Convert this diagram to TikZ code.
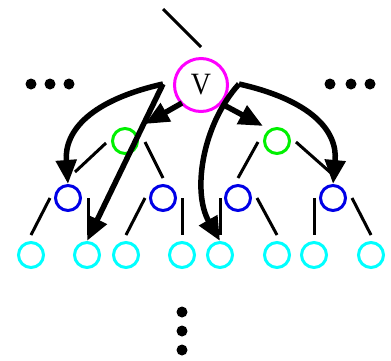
\documentclass[tikz,border=0pt]{standalone}
\usepackage{fontspec}
\setmainfont{Liberation Serif}
\usetikzlibrary{arrows.meta,calc}
\definecolor{vmag}{RGB}{255,0,255}
\definecolor{vgreen}{RGB}{0,240,0}
\definecolor{vblue}{RGB}{0,0,230}
\definecolor{vcyan}{RGB}{0,255,255}
\begin{document}
\begin{tikzpicture}[x=1pt,y=-1pt,
  nd/.style={circle,draw,line width=3pt,inner sep=0pt,minimum size=25pt},
  stub/.style={line width=3pt},
  bigarrow/.style={line width=5.5pt,-{Triangle[length=24pt,width=20pt]}},
  dot/.style={circle,fill=black,inner sep=0pt,minimum size=11pt}]
\useasboundingbox (0,0) rectangle (391,360);
% nodes
\node[nd,draw=vmag,minimum size=53pt,font=\fontsize{31}{31}\selectfont] (v) at (201,85) {\raisebox{-0.25ex}{\scalebox{0.9}[1]{V}}};
\node[nd,draw=vgreen] (g1) at (125,141) {};
\node[nd,draw=vgreen] (g2) at (277,141) {};
\node[nd,draw=vblue] (b1) at (68,198) {};
\node[nd,draw=vblue] (b2) at (163,198) {};
\node[nd,draw=vblue] (b3) at (238,198) {};
\node[nd,draw=vblue] (b4) at (333,198) {};
\foreach \i/\x in {1/31,2/87,3/126,4/182,5/220,6/277,7/314,8/371}
  \node[nd,draw=vcyan] (c\i) at (\x,255) {};
% dots
\foreach \n/\x/\y in {l1/31/84,l2/50/84,l3/69/84,r1/330/84,r2/351/84,r3/370/84,d1/182/312,d2/182/331,d3/182/350}
  \node[dot] (dot\n) at (\x,\y) {};
% stubs (tree edges)
\coordinate (top) at (163,9);
\draw[stub] (top) -- (201,47);
\draw[stub] (106,143) -- (75,172);
\draw[stub] (145,142) -- (163,178);
\draw[stub] (258,142) -- (238,178);
\draw[stub] (296,142) -- (331,173);
\draw[stub] (50,198) -- (31,235);
\draw[stub] (88,198) -- (88,235);
\draw[stub] (145,198) -- (126,235);
\draw[stub] (182,198) -- (182,235);
\draw[stub] (220,198) -- (220,235);
\draw[stub] (257,198) -- (277,235);
\draw[stub] (314,198) -- (314,235);
\draw[stub] (352,198) -- (371,235);
% arrows
\coordinate (sl) at (163,84);
\coordinate (sr) at (239,84);
\coordinate (t3) at (145,124);
\coordinate (t4) at (263,126);
\coordinate (s3) at (182,103);
\coordinate (s4) at (222,104);
\draw[bigarrow] (sl) .. controls (92,100) and (64,130) .. (b1.north);
\draw[bigarrow] (sr) .. controls (310,100) and (338,130) .. (b4.north);
\draw[bigarrow] (sl) -- (c2.north);
\draw[bigarrow] (sr) .. controls (202,125) and (192,192) .. (c5.north);
\draw[bigarrow] (s3) -- (t3);
\draw[bigarrow] (s4) -- (t4);
\end{tikzpicture}
\end{document}
